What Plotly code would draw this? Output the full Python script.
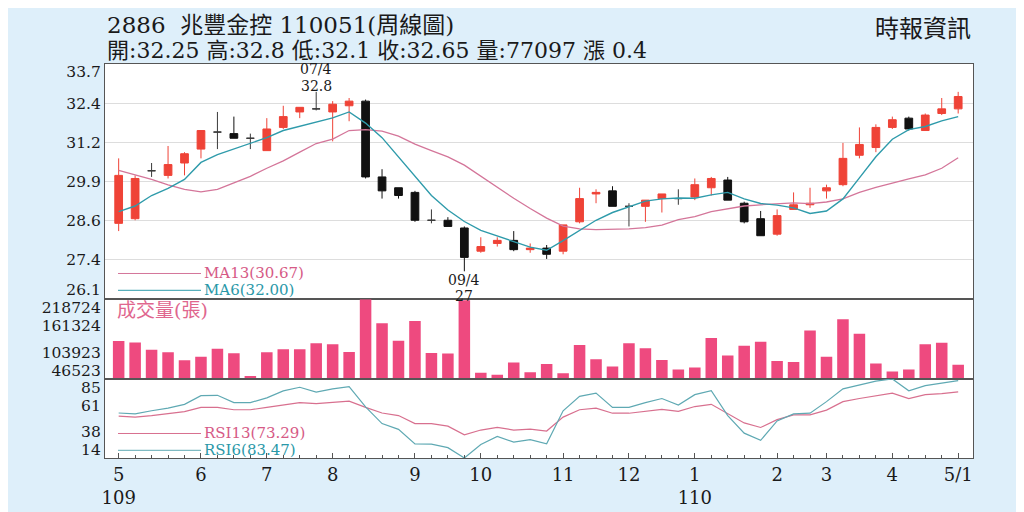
import numpy as np
import plotly.graph_objects as go
from plotly.subplots import make_subplots

# ---------------- data ----------------
stock_code = "2886"
stock_name = "兆豐金控"
period_code = "110051"
hi_week_label = "07/4"
lo_week_label = "09/4"

month_tick_idx = [0, 5, 9, 13, 18, 22, 27, 31, 35, 40, 43, 47, 51]
month_tick_text = ["5<br>109", "6", "7", "8", "9", "10", "11", "12", "1<br>110", "2", "3", "4", "5/1"]

open_ = [28.55, 28.7, 30.25, 30.1, 30.5, 30.95, 31.5, 31.45, 31.3, 30.9, 31.65, 32.15, 32.25, 32.15, 32.35, 32.5,
         30.05, 29.7, 29.55, 28.65, 28.65, 28.4, 27.65, 27.9, 28.0, 27.7, 27.75, 27.65, 28.6, 29.5, 29.6, 29.1,
         29.1, 29.35, 29.35, 29.4, 29.7, 29.95, 29.2, 28.7, 28.2, 29.0, 29.15, 29.6, 29.8, 30.75, 31.0, 31.65,
         31.95, 31.55, 32.1, 32.25]
high = [30.65, 30.1, 30.5, 31.05, 30.85, 31.55, 32.15, 32.0, 31.45, 31.95, 32.35, 32.3, 32.8, 32.5, 32.6, 32.55,
        30.3, 29.7, 29.6, 29.0, 28.75, 28.45, 28.1, 28.1, 28.3, 27.9, 27.85, 28.5, 29.7, 29.65, 29.75, 29.2,
        29.3, 29.5, 29.65, 30.0, 30.05, 30.05, 29.25, 28.95, 29.0, 29.55, 29.7, 29.8, 31.15, 31.65, 31.75, 32.0,
        32.0, 32.1, 32.6, 32.8]
low = [28.3, 28.65, 30.05, 30.0, 30.1, 30.65, 30.95, 31.3, 30.95, 30.9, 31.6, 31.95, 32.2, 31.2, 31.85, 30.0,
       29.35, 29.35, 28.6, 28.55, 28.45, 27.0, 27.6, 27.8, 27.65, 27.6, 27.4, 27.55, 28.55, 29.2, 29.1, 28.45,
       28.6, 28.9, 29.15, 29.3, 29.45, 29.3, 28.55, 28.15, 28.15, 29.0, 29.05, 29.35, 29.75, 30.65, 30.85, 31.6,
       31.55, 31.55, 32.05, 32.1]
close = [30.1, 30.0, 30.25, 30.45, 30.8, 31.55, 31.5, 31.3, 31.3, 31.6, 32.0, 32.3, 32.25, 32.4, 32.5, 30.05,
         29.6, 29.45, 28.65, 28.65, 28.45, 27.45, 27.8, 28.0, 27.7, 27.75, 27.55, 28.5, 29.35, 29.55, 29.1, 29.1,
         29.3, 29.5, 29.35, 29.8, 30.0, 29.3, 28.6, 28.15, 28.8, 29.15, 29.2, 29.7, 30.65, 31.1, 31.65, 31.9,
         31.6, 32.05, 32.25, 32.65]

ma6 = [28.93, 29.11, 29.45, 29.68, 29.97, 30.52, 30.77, 30.95, 31.13, 31.32, 31.55, 31.68, 31.81, 31.96, 32.15,
       31.79, 31.32, 30.70, 30.07, 29.45, 28.98, 28.61, 28.32, 28.15, 27.96, 27.78, 27.68, 27.99, 28.32, 28.65,
       28.9, 29.08, 29.27, 29.34, 29.37, 29.36, 29.47, 29.55, 29.34, 29.19, 29.14, 29.05, 28.87, 28.95, 29.34,
       30.02, 30.70, 31.27, 31.58, 31.68, 31.86, 32.00]
ma13 = [30.26, 30.12, 29.97, 29.79, 29.65, 29.57, 29.65, 29.86, 30.07, 30.33, 30.57, 30.85, 31.13, 31.27, 31.55,
        31.58, 31.53, 31.37, 31.11, 30.90, 30.70, 30.43, 30.07, 29.71, 29.36, 29.03, 28.72, 28.46, 28.37, 28.35,
        28.35, 28.37, 28.41, 28.49, 28.67, 28.77, 28.93, 29.03, 29.11, 29.15, 29.19, 29.21, 29.19, 29.24, 29.34,
        29.55, 29.71, 29.86, 29.99, 30.12, 30.33, 30.67]

volume = [128300, 125400, 109600, 104000, 86800, 94200, 111700, 101900, 52700, 104000, 110800, 110800, 123300,
          121200, 104600, 218724, 166900, 128900, 171800, 102500, 101300, 216600, 59800, 55700, 81800, 61000,
          78500, 59000, 120000, 88800, 73500, 123300, 112900, 87400, 66600, 71400, 135100, 97100, 117900, 126800,
          85300, 83200, 151100, 94200, 175200, 144000, 79700, 62500, 66600, 121200, 124700, 77097]

rsi6 = [54.4, 53.6, 56.4, 58.8, 62.2, 70.0, 70.3, 63.7, 63.7, 68.0, 74.3, 77.5, 73.2, 76.1, 78.1, 59.9, 44.9,
        39.7, 26.7, 26.5, 23.3, 14.0, 26.1, 33.4, 28.2, 30.5, 26.7, 56.4, 69.4, 72.3, 59.4, 59.4, 63.7, 67.4,
        61.6, 70.9, 74.4, 52.1, 36.3, 29.9, 47.3, 53.6, 54.2, 64.6, 76.1, 79.6, 83.0, 85.0, 74.4, 79.0, 81.0,
        83.47]
rsi13 = [51.6, 50.7, 52.1, 53.6, 55.6, 59.4, 59.4, 57.3, 57.3, 59.4, 61.6, 63.7, 62.8, 64.2, 65.1, 59.4, 54.4,
         52.1, 44.9, 44.9, 42.6, 34.8, 39.1, 41.4, 39.1, 40.0, 38.2, 50.7, 57.3, 58.8, 54.2, 54.2, 55.9, 57.6,
         55.9, 60.2, 62.2, 53.6, 45.5, 41.4, 48.4, 52.7, 52.7, 57.0, 64.6, 67.4, 70.0, 72.3, 67.4, 70.9, 71.8,
         73.29]

price_tick_text = ["26.1", "27.4", "28.6", "29.9", "31.2", "32.4", "33.7"]
price_range = [26.1, 33.7]
vol_tick_vals = [46523, 103923, 161324, 218724]
vol_tick_text = ["46523", "103923", "161324", "218724"]
rsi_tick_vals = [14, 38, 61, 85]
rsi_tick_text = ["14", "38", "61", "85"]

# ---------------- style ----------------
W, H = 1024, 512
ML, MR, MT, MB = 97, 59, 56, 46
PW, PH = W - ML - MR, H - MT - MB


def px_x(x):
    return (x - ML) / PW


def px_y(y):
    return (H - MB - y) / PH


BG = "#deeffa"
RED = "#ef4337"
BLACK = "#111111"
DOJI = "#3a3a3a"
MA6_C = "#2f9bab"
MA13_C = "#d4769a"
VOL_C = "#ee4a7f"
RSI6_C = "#5fa9b3"
RSI13_C = "#d8708f"
AX = "#555555"
GRID = "#dddddd"
SERIF = "DejaVu Serif, Noto Sans CJK TC, serif"
TXT = "#1a1a1a"

P_TOP, P_BOT = 56.0, 300.7      # price panel pixel rows
V_BOT = 383.7                   # volume panel bottom
R_BOT = 466.0                   # rsi panel bottom
P0 = px_y(P_BOT)
V0 = px_y(V_BOT)

x = list(range(len(close)))

fig = make_subplots(rows=3, cols=1, shared_xaxes=True, vertical_spacing=0)

# candles: red (up), black (down), dark crosses (open == close)
up = [i for i in x if close[i] > open_[i]]
dn_real = [i for i in x if close[i] < open_[i]]
dj = [i for i in x if close[i] == open_[i]]


def candle(idx, color):
    return go.Candlestick(
        x=idx,
        open=[open_[i] for i in idx], high=[high[i] for i in idx],
        low=[low[i] for i in idx], close=[close[i] for i in idx],
        increasing=dict(line=dict(color=color, width=1), fillcolor=color),
        decreasing=dict(line=dict(color=color, width=1), fillcolor=color),
        whiskerwidth=0, showlegend=False, hoverinfo="skip")


fig.add_trace(candle(up, RED), row=1, col=1)
fig.add_trace(candle(dn_real, BLACK), row=1, col=1)
fig.add_trace(candle(dj, DOJI), row=1, col=1)

fig.add_trace(go.Scatter(x=x, y=ma13, mode="lines", line=dict(color=MA13_C, width=1.3),
                         showlegend=False, hoverinfo="skip"), row=1, col=1)
fig.add_trace(go.Scatter(x=x, y=ma6, mode="lines", line=dict(color=MA6_C, width=1.4),
                         showlegend=False, hoverinfo="skip"), row=1, col=1)

fig.add_trace(go.Bar(x=x, y=volume, marker=dict(color=VOL_C, line=dict(width=0)), width=0.7,
                     showlegend=False, hoverinfo="skip"), row=2, col=1)

fig.add_trace(go.Scatter(x=x, y=rsi13, mode="lines", line=dict(color=RSI13_C, width=1.2),
                         showlegend=False, hoverinfo="skip"), row=3, col=1)
fig.add_trace(go.Scatter(x=x, y=rsi6, mode="lines", line=dict(color=RSI6_C, width=1.2),
                         showlegend=False, hoverinfo="skip"), row=3, col=1)

# ---------------- axes ----------------
xr = [-0.83, len(close) - 0.1]
for r in (1, 2, 3):
    fig.update_xaxes(range=xr, showgrid=False, zeroline=False, showline=True, linecolor=AX,
                     linewidth=1.2, mirror=True, rangeslider_visible=False, row=r, col=1)
fig.update_xaxes(tickmode="array", tickvals=month_tick_idx, ticktext=month_tick_text,
                 ticks="inside", ticklen=5, tickcolor=AX,
                 tickfont=dict(family=SERIF, size=18, color=TXT),
                 minor=dict(tickmode="linear", tick0=0, dtick=1, ticks="inside", ticklen=3, tickcolor=AX),
                 row=3, col=1)


def label_positions(vals, lo, hi, top_px, bot_px, first_px, last_px):
    """Tick-label positions: interior labels sit on their values, the two end labels
    are pulled inside the panel to the pixel rows used by the reference."""
    per_px = (hi - lo) / (bot_px - top_px)
    pos = list(vals)
    pos[0] = lo + (bot_px - first_px) * per_px
    pos[-1] = hi - (last_px - top_px) * per_px
    return pos


price_grid = np.linspace(price_range[0], price_range[1], len(price_tick_text))
price_label_pos = label_positions(price_grid, price_range[0], price_range[1], P_TOP, P_BOT, 291.0, 64.0)
vol_label_pos = label_positions(vol_tick_vals, vol_tick_vals[0], vol_tick_vals[-1], P_BOT, V_BOT, 374.8, 309.5)
rsi_label_pos = label_positions(rsi_tick_vals, rsi_tick_vals[0], rsi_tick_vals[-1], V_BOT, R_BOT, 457.5, 393.0)

yfont = dict(family=SERIF, size=15.5, color=TXT)
fig.update_yaxes(range=price_range, tickmode="array", tickvals=price_label_pos, ticktext=price_tick_text,
                 showgrid=False, zeroline=False, showline=True, linecolor=AX, linewidth=1.2, mirror=True,
                 ticks="", tickfont=yfont,
                 minor=dict(tickmode="array", tickvals=list(price_grid), showgrid=True, gridcolor=GRID,
                            gridwidth=1, ticks=""),
                 domain=[P0, 1], row=1, col=1)
fig.update_yaxes(range=[vol_tick_vals[0], vol_tick_vals[-1]], tickmode="array", tickvals=vol_label_pos,
                 ticktext=vol_tick_text, showgrid=False, zeroline=False, showline=True, linecolor=AX,
                 linewidth=1.2, mirror=True, ticks="", tickfont=yfont, domain=[V0, P0], row=2, col=1)
fig.update_yaxes(range=[rsi_tick_vals[0], rsi_tick_vals[-1]], tickmode="array", tickvals=rsi_label_pos,
                 ticktext=rsi_tick_text, showgrid=False, zeroline=False, showline=True, linecolor=AX,
                 linewidth=1.2, mirror=True, ticks="", tickfont=yfont, domain=[0, V0], row=3, col=1)

# ---------------- texts ----------------
ann = []
title1 = f"{stock_code}  {stock_name} {period_code}(周線圖)"
chg = round(close[-1] - close[-2], 2)
title2 = (f"開:{open_[-1]:g} 高:{high[-1]:g} 低:{low[-1]:g} 收:{close[-1]:g} "
          f"量:{volume[-1]} 漲 {chg:g}")
ann.append(dict(text=title1, x=0, y=px_y(15), xref="paper", yref="paper", xanchor="left", yanchor="middle",
                showarrow=False, font=dict(family=SERIF, size=23, color=TXT)))
ann.append(dict(text=title2, x=0, y=px_y(41.5), xref="paper", yref="paper", xanchor="left", yanchor="middle",
                showarrow=False, font=dict(family=SERIF, size=22, color=TXT)))
ann.append(dict(text="時報資訊", x=1, y=px_y(20), xref="paper", yref="paper", xanchor="right",
                yanchor="middle", showarrow=False, font=dict(family=SERIF, size=24, color=TXT)))

i_hi = int(np.argmax(high))
i_lo = int(np.argmin(low))
lab_font = dict(family=SERIF, size=14, color=TXT)
ann.append(dict(text=f"{high[i_hi]:g}", x=i_hi, y=high[i_hi], xref="x", yref="y", yanchor="middle",
                yshift=6, showarrow=False, font=lab_font))
ann.append(dict(text=hi_week_label, x=i_hi, y=high[i_hi], xref="x", yref="y", yanchor="middle",
                yshift=22.5, showarrow=False, font=lab_font))
ann.append(dict(text=lo_week_label, x=i_lo, y=low[i_lo], xref="x", yref="y", yanchor="middle",
                yshift=-8.5, showarrow=False, font=lab_font))
ann.append(dict(text=f"{low[i_lo]:g}", x=i_lo, y=low[i_lo], xref="x", yref="y", yanchor="middle",
                yshift=-25, showarrow=False, font=lab_font))

shapes = []
legend_items = [
    (f"MA13({ma13[-1]:.2f})", MA13_C, "#d65a86", 274.0),
    (f"MA6({ma6[-1]:.2f})", MA6_C, "#2a98a8", 291.5),
    (f"RSI13({rsi13[-1]:.2f})", RSI13_C, "#d65a86", 440.5),
    (f"RSI6({rsi6[-1]:.2f})", RSI6_C, "#2a98a8", 458.0),
]
for label, lc, tc, ypx in legend_items:
    shapes.append(dict(type="line", xref="paper", yref="paper", x0=px_x(110), x1=px_x(193),
                       y0=px_y(ypx), y1=px_y(ypx), line=dict(color=lc, width=1)))
    ann.append(dict(text=label, x=px_x(194), y=px_y(ypx), xref="paper", yref="paper", xanchor="left",
                    yanchor="middle", showarrow=False, font=dict(family=SERIF, size=15, color=tc)))

ann.append(dict(text="成交量(張)", x=px_x(107), y=px_y(312.5), xref="paper", yref="paper", xanchor="left",
                yanchor="middle", showarrow=False, font=dict(family=SERIF, size=19, color="#e0668e")))

fig.update_layout(
    width=W, height=H,
    margin=dict(l=ML, r=MR, t=MT, b=MB, pad=0),
    paper_bgcolor=BG, plot_bgcolor="white",
    boxgap=0.33, bargap=0.3,
    annotations=ann, shapes=shapes,
    showlegend=False, hovermode=False,
)

fig.write_html("out.html", config={"displayModeBar": False})
